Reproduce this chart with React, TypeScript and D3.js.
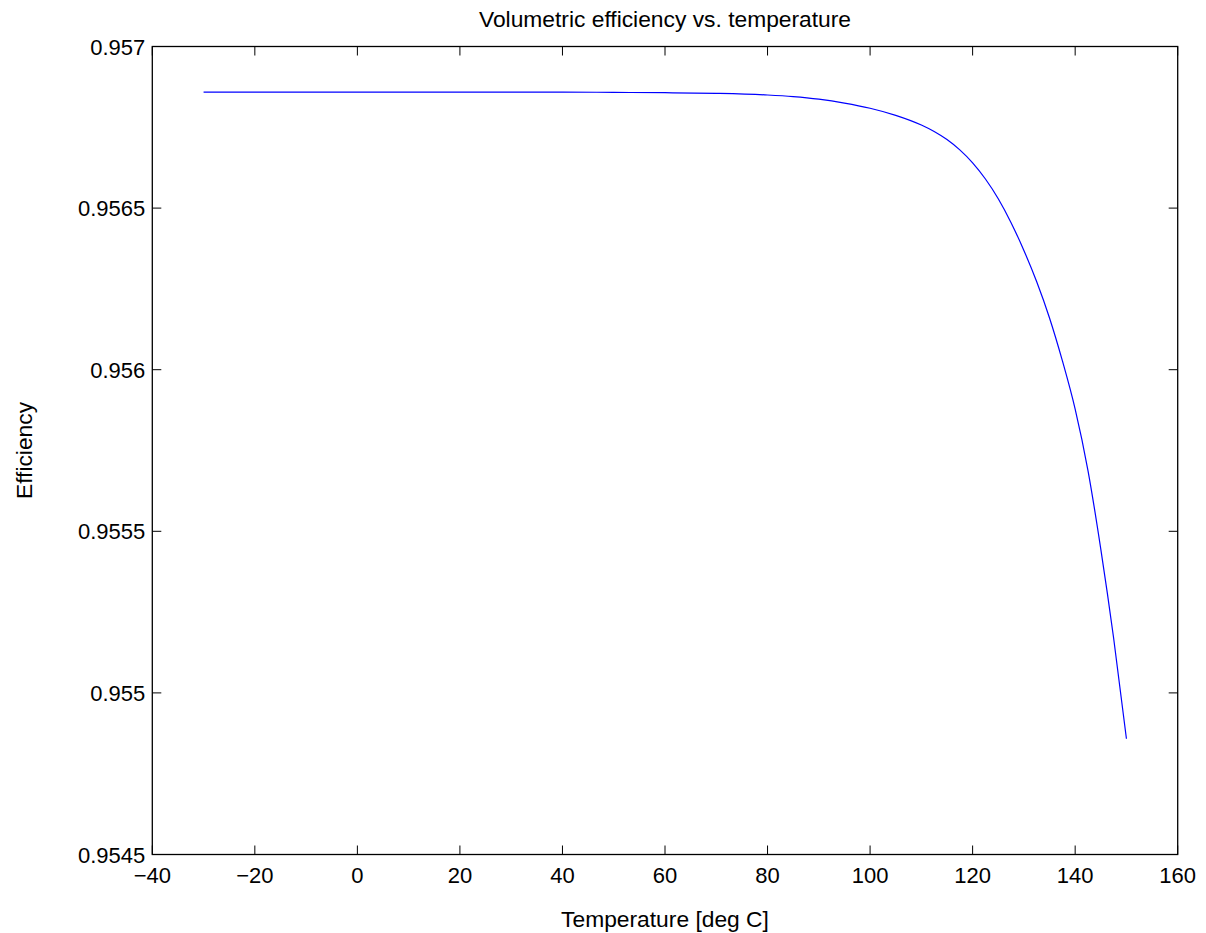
import React from "react";
import * as d3 from "d3";

// temperature [deg C] and volumetric efficiency
const temps = [
  -30, -20, -10, 0, 10, 20, 30, 40, 50, 60, 70, 80, 85, 90, 95, 100, 105, 110,
  112.5, 115, 117.5, 120, 122.5, 125, 127.5, 130, 132.5, 135, 137.5, 140, 142.5,
  145, 147.5, 150,
];
const efficiency = [
  0.956859, 0.956859, 0.956859, 0.956859, 0.956859, 0.956859, 0.956859,
  0.956859, 0.956858, 0.956857, 0.956855, 0.95685, 0.956845, 0.956837,
  0.956825, 0.956809, 0.956787, 0.956757, 0.956737, 0.956712, 0.95668,
  0.95664, 0.95659, 0.956529, 0.956455, 0.956369, 0.956272, 0.95616,
  0.956028, 0.955878, 0.955688, 0.955445, 0.95517, 0.954858,
];

const xTicks = [-40, -20, 0, 20, 40, 60, 80, 100, 120, 140, 160];
const yTicks = [0.9545, 0.955, 0.9555, 0.956, 0.9565, 0.957];
const yTickLabels = ["0.9545", "0.955", "0.9555", "0.956", "0.9565", "0.957"];

const title = "Volumetric efficiency vs. temperature";
const xLabel = "Temperature [deg C]";
const yLabel = "Efficiency";

const W = 1206;
const H = 933;
const margin = { top: 46.5, right: 28.3, bottom: 78.5, left: 152.3 };
const font = "'Liberation Sans', Arial, Helvetica, sans-serif";
const fs = 22;
const labelFs = 22.8;
const tickLen = 9;

function fmtX(v: number) {
  return v < 0 ? "\u2212" + Math.abs(v) : String(v);
}

export default function App() {
  const innerW = W - margin.left - margin.right;
  const innerH = H - margin.top - margin.bottom;

  const x = d3.scaleLinear().domain([-40, 160]).range([0, innerW]);
  const y = d3.scaleLinear().domain([0.9545, 0.957]).range([innerH, 0]);

  const data = temps.map((t, i) => ({ t, v: efficiency[i] }));
  const line = d3
    .line<{ t: number; v: number }>()
    .x(d => x(d.t))
    .y(d => y(d.v))
    .curve(d3.curveMonotoneX);

  return (
    <svg
      width={W}
      height={H}
      style={{ position: "absolute", left: 0, top: 0, background: "#fff" }}
      fontFamily={font}
    >
      <rect width={W} height={H} fill="#fff" />
      <g transform={`translate(${margin.left},${margin.top})`}>
        {/* curve */}
        <path d={line(data) || ""} fill="none" stroke="#0000ff" strokeWidth={1.2} />

        {/* frame */}
        <rect width={innerW} height={innerH} fill="none" stroke="#000" strokeWidth={1.3} />

        {/* x ticks, bottom and top */}
        {xTicks.map(t => (
          <g key={"x" + t} transform={`translate(${x(t)},0)`}>
            <line y1={innerH} y2={innerH - tickLen} stroke="#000" />
            <line y1={0} y2={tickLen} stroke="#000" />
            <text y={innerH + 28.5} textAnchor="middle" fontSize={fs}>
              {fmtX(t)}
            </text>
          </g>
        ))}

        {/* y ticks, left and right */}
        {yTicks.map((t, i) => (
          <g key={"y" + t} transform={`translate(0,${y(t)})`}>
            <line x1={0} x2={tickLen} stroke="#000" />
            <line x1={innerW} x2={innerW - tickLen} stroke="#000" />
            <text x={-7} y={8} textAnchor="end" fontSize={fs}>
              {yTickLabels[i]}
            </text>
          </g>
        ))}
      </g>

      <text x={margin.left + innerW / 2} y={27} textAnchor="middle" fontSize={labelFs}>
        {title}
      </text>
      <text x={margin.left + innerW / 2} y={927} textAnchor="middle" fontSize={labelFs}>
        {xLabel}
      </text>
      <text
        transform={`translate(31.5,${margin.top + innerH / 2}) rotate(-90)`}
        textAnchor="middle"
        fontSize={labelFs}
      >
        {yLabel}
      </text>
    </svg>
  );
}
